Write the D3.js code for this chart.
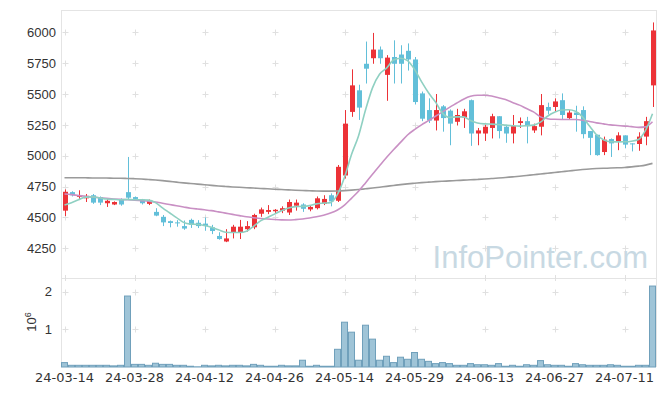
<!DOCTYPE html>
<html lang="ko">
<head>
<meta charset="UTF-8">
<title>Daily candles</title>
<script src="https://d3js.org/d3.v7.min.js"></script>
<style>
    body { margin: 0; background: #fff; }
    #chart svg { display: block; }
    .axis path, .axis line { display: none; }
    .yaxis text { font-family: "Liberation Sans", Arial, sans-serif; font-size: 13px; fill: #333; }
    .xaxis text { font-family: "DejaVu Sans", sans-serif; font-size: 13px; fill: #333; }
</style>
</head>
<body>
<div id="chart"></div>
<script>
// trading days shown
const dates = [
    "24-03-14","24-03-15","24-03-18","24-03-19","24-03-20","24-03-21","24-03-22","24-03-25","24-03-26","24-03-27",
    "24-03-28","24-03-29","24-04-01","24-04-02","24-04-03","24-04-04","24-04-05","24-04-08","24-04-09","24-04-11",
    "24-04-12","24-04-15","24-04-16","24-04-17","24-04-18","24-04-19","24-04-22","24-04-23","24-04-24","24-04-25",
    "24-04-26","24-04-29","24-04-30","24-05-02","24-05-03","24-05-07","24-05-08","24-05-09","24-05-10","24-05-13",
    "24-05-14","24-05-16","24-05-17","24-05-20","24-05-21","24-05-22","24-05-23","24-05-24","24-05-27","24-05-28",
    "24-05-29","24-05-30","24-05-31","24-06-03","24-06-04","24-06-05","24-06-07","24-06-10","24-06-11","24-06-12",
    "24-06-13","24-06-14","24-06-17","24-06-18","24-06-19","24-06-20","24-06-21","24-06-24","24-06-25","24-06-26",
    "24-06-27","24-06-28","24-07-01","24-07-02","24-07-03","24-07-04","24-07-05","24-07-08","24-07-09","24-07-10",
    "24-07-11","24-07-12","24-07-15","24-07-16","24-07-17"
];
const opens = [
    4555,4705,4668,4655,4680,4665,4615,4605,4645,4705, 4665,4645,4610,4545,4505,4470,4460,4430,4480,4457,
    4450,4420,4350,4305,4375,4380,4405,4420,4530,4545, 4550,4555,4540,4595,4605,4565,4575,4610,4680,4635,
    4840,5355,5530,5745,5790,5860,5655,5800,5820,5850, 5780,5505,5370,5285,5400,5365,5275,5310,5450,5180,
    5180,5225,5320,5235,5180,5265,5280,5205,5235,5395, 5395,5450,5305,5350,5370,5200,5170,5030,5135,5115,
    5165,5100,5095,5155,5570
];
const highs = [
    4727,4712,4720,4690,4690,4670,4650,4630,4655,4990, 4670,4650,4645,4575,4520,4475,4478,4475,4490,4478,
    4500,4440,4380,4405,4440,4480,4470,4530,4580,4600, 4568,4590,4645,4645,4615,4595,4670,4680,4695,4925,
    5370,5700,5575,5925,5995,5885,5815,5935,5895,5910, 5800,5520,5465,5500,5410,5375,5380,5380,5455,5225,
    5250,5340,5320,5250,5330,5310,5315,5260,5500,5430, 5465,5505,5370,5405,5400,5200,5170,5155,5140,5190,
    5165,5100,5190,5315,6080
];
const lows = [
    4511,4670,4650,4625,4610,4600,4585,4600,4595,4650, 4640,4605,4600,4510,4430,4420,4425,4400,4415,4414,
    4392,4365,4320,4300,4330,4325,4385,4405,4505,4527, 4530,4535,4520,4555,4545,4550,4565,4600,4590,4625,
    4815,5315,5290,5585,5745,5745,5445,5585,5585,5690, 5415,5280,5265,5205,5195,5085,5245,5225,5080,5085,
    5120,5140,5140,5105,5100,5225,5100,5185,5165,5335, 5355,5290,5290,5195,5140,5005,5000,5005,4990,5045,
    5060,5035,5040,5085,5395
];
const closes = [
    4708,4680,4675,4675,4620,4620,4635,4625,4605,4660, 4650,4615,4635,4515,4460,4455,4455,4410,4440,4430,
    4430,4390,4325,4330,4425,4425,4430,4520,4565,4560, 4562,4575,4625,4620,4570,4585,4655,4650,4630,4910,
    5260,5570,5390,5705,5860,5790,5795,5745,5745,5780, 5435,5300,5285,5370,5305,5260,5330,5360,5180,5205,
    5235,5320,5200,5180,5240,5280,5240,5240,5410,5365, 5440,5330,5350,5330,5175,5145,5005,5130,5100,5165,
    5090,5095,5155,5280,6015
];
// volume in millions of shares
const volumes = [
    0.117,0.045,0.045,0.045,0.045,0.045,0.045,0.03,0.045,1.885, 0.07,0.07,0.045,0.1,0.07,0.07,0.045,0.045,0.02,0.005,
    0.045,0.03,0.045,0.03,0.045,0.045,0.03,0.07,0.045,0.02, 0.02,0.045,0.03,0.03,0.18,0.02,0.045,0.02,0.02,0.47,
    1.19,0.925,0.18,1.11,0.74,0.18,0.285,0.117,0.26,0.205, 0.385,0.205,0.15,0.09,0.117,0.09,0.045,0.045,0.09,0.06,
    0.06,0.045,0.09,0.02,0.045,0.02,0.06,0.045,0.17,0.06, 0.045,0.045,0.02,0.09,0.06,0.045,0.045,0.045,0.06,0.045,
    0.02,0.02,0.045,0.045,2.15
];
// moving averages as drawn
const ma5 = [
    4600,4619,4643,4665,4667,4659,4649,4646,4643,4646, 4643,4643,4640,4620,4578,4538,4498,4460,4446,4444,
    4435,4420,4400,4380,4378,4378,4388,4428,4472,4500, 4527,4555,4577,4588,4590,4596,4610,4616,4620,4686,
    4825,5010,5160,5370,5550,5660,5710,5775,5790,5770, 5700,5600,5510,5435,5345,5310,5315,5315,5285,5265,
    5258,5256,5253,5248,5243,5240,5243,5248,5272,5320, 5352,5370,5372,5360,5315,5240,5170,5130,5113,5112,
    5113,5118,5132,5205,5340
];
const ma20 = [
    4690,4685,4678,4672,4665,4660,4655,4650,4646,4643, 4640,4636,4632,4625,4615,4605,4595,4585,4575,4568,
    4562,4555,4545,4535,4525,4515,4505,4498,4492,4487, 4483,4480,4479,4482,4487,4495,4505,4518,4535,4560,
    4600,4655,4712,4780,4850,4918,4985,5048,5108,5168, 5212,5250,5284,5320,5355,5392,5425,5458,5482,5490,
    5490,5484,5470,5455,5432,5410,5382,5355,5315,5300, 5295,5294,5294,5293,5288,5278,5266,5258,5250,5245,
    5240,5236,5230,5234,5275
];
const ma120 = [
    4822,4822,4822,4821,4820,4820,4819,4818,4817,4816, 4814,4811,4807,4803,4798,4792,4786,4780,4775,4770,
    4765,4760,4755,4751,4747,4744,4741,4738,4735,4732, 4729,4726,4723,4720,4718,4716,4714,4713,4713,4714,
    4717,4721,4726,4732,4738,4745,4752,4759,4766,4772, 4777,4782,4786,4790,4793,4796,4799,4802,4805,4808,
    4811,4815,4819,4824,4829,4834,4840,4846,4852,4858, 4864,4870,4876,4882,4888,4893,4896,4898,4900,4902,
    4905,4910,4916,4924,4938
];
const priceTicks = [4250, 4500, 4750, 5000, 5250, 5500, 5750, 6000];
const volumeTicks = [1, 2];
const dateTicks = ["24-03-14","24-03-28","24-04-12","24-04-26","24-05-14","24-05-29","24-06-13","24-06-27","24-07-11"];

const W = 665, H = 396;
const plotLeft = 61, plotRight = 656, plotTop = 10, plotSplit = 278, plotBottom = 367;

const svg = d3.select("#chart").append("svg")
    .attr("width", W)
    .attr("height", H);

const x = d3.scaleBand().domain(dates).range([plotLeft, plotRight]).padding(0);
const cx = d => x(d) + x.bandwidth() / 2;
const y = d3.scaleLinear().domain([4250, 6000]).range([248.3, 32.3]);
const yv = d3.scaleLinear().domain([0, 2]).range([plotBottom, 291.7]);

svg.append("clipPath").attr("id", "clipTop")
  .append("rect").attr("x", plotLeft).attr("y", plotTop).attr("width", plotRight - plotLeft).attr("height", plotSplit - plotTop);

// frame
const frame = svg.append("g").attr("stroke", "#e4e4e4").attr("fill", "none");
frame.append("line").attr("x1", plotLeft + 0.5).attr("x2", plotLeft + 0.5).attr("y1", plotTop).attr("y2", plotBottom);
frame.append("line").attr("x1", plotRight + 0.5).attr("x2", plotRight + 0.5).attr("y1", plotTop).attr("y2", plotBottom);
frame.append("line").attr("x1", plotLeft).attr("x2", plotRight + 1).attr("y1", plotTop + 0.5).attr("y2", plotTop + 0.5);
frame.append("line").attr("x1", plotLeft).attr("x2", plotRight + 1).attr("y1", plotSplit + 0.5).attr("y2", plotSplit + 0.5);

// little + marks on the grid
const grid = svg.append("g").attr("stroke", "#e0e0e0").attr("stroke-width", 1);
dateTicks.forEach(d => {
    const gx = Math.round(cx(d)) + 0.5;
    priceTicks.forEach(p => {
        const gy = Math.round(y(p)) + 0.5;
        grid.append("line").attr("x1", gx - 3).attr("x2", gx + 3).attr("y1", gy).attr("y2", gy);
        grid.append("line").attr("x1", gx).attr("x2", gx).attr("y1", gy - 3).attr("y2", gy + 3);
    });
    volumeTicks.forEach(v => {
        const gy = Math.round(yv(v)) + 0.5;
        grid.append("line").attr("x1", gx - 3).attr("x2", gx + 3).attr("y1", gy).attr("y2", gy);
        grid.append("line").attr("x1", gx).attr("x2", gx).attr("y1", gy - 3).attr("y2", gy + 3);
    });
    grid.append("line").attr("x1", gx).attr("x2", gx).attr("y1", plotSplit - 3).attr("y2", plotSplit + 3);
});

// watermark
svg.append("text")
    .attr("x", 648).attr("y", 268)
    .attr("text-anchor", "end")
    .style("font-family", "'Liberation Sans', Arial, sans-serif")
    .style("font-size", "31px")
    .attr("fill", "#c8d9e3")
    .text("InfoPointer.com");

// candles
const rows = dates.map((d, i) => ({date: d, o: opens[i], h: highs[i], l: lows[i], c: closes[i], v: volumes[i]}));
const candles = svg.append("g").attr("clip-path", "url(#clipTop)");
const colorOf = d => d.c >= d.o ? "#ec3237" : "#62bfd9";

candles.selectAll(".wick")
    .data(rows)
  .enter().append("line")
    .attr("x1", d => Math.round(cx(d.date)) + 0.5)
    .attr("x2", d => Math.round(cx(d.date)) + 0.5)
    .attr("y1", d => y(d.h))
    .attr("y2", d => y(d.l))
    .attr("stroke", colorOf)
    .attr("stroke-width", 1);

candles.selectAll(".body")
    .data(rows)
  .enter().append("rect")
    .attr("x", d => Math.round(cx(d.date)) - 2)
    .attr("width", 5)
    .attr("y", d => y(Math.max(d.o, d.c)))
    .attr("height", d => Math.max(1, Math.abs(y(d.o) - y(d.c))))
    .attr("fill", colorOf);

// moving averages
const maLine = d3.line()
    .x((v, i) => cx(dates[i]))
    .y(v => y(v))
    .curve(d3.curveMonotoneX);

[[ma120, "#9a9a9a"], [ma20, "#c990c4"], [ma5, "#8fd0c2"]].forEach(([s, col]) => {
    candles.append("path")
        .attr("d", maLine(s))
        .attr("fill", "none")
        .attr("stroke", col)
        .attr("stroke-width", 1.6);
});

// volume bars
svg.append("g").selectAll("rect")
    .data(rows)
  .enter().append("rect")
    .attr("x", d => x(d.date) + 0.5)
    .attr("width", x.bandwidth() - 1)
    .attr("y", d => yv(d.v))
    .attr("height", d => plotBottom - yv(d.v))
    .attr("fill", "#9fc4d7")
    .attr("stroke", "#70a0bb")
    .attr("stroke-width", 1);

// axes
svg.append("g")
    .attr("class", "axis yaxis")
    .attr("transform", "translate(" + plotLeft + ",0)")
    .call(d3.axisLeft(y).tickValues(priceTicks).tickFormat(d3.format("d")).tickSize(0).tickPadding(5));

svg.append("g")
    .attr("class", "axis yaxis")
    .attr("transform", "translate(" + plotLeft + ",0)")
    .call(d3.axisLeft(yv).tickValues(volumeTicks).tickFormat(d3.format("d")).tickSize(0).tickPadding(9));

svg.append("g")
    .attr("class", "axis xaxis")
    .attr("transform", "translate(0," + plotBottom + ")")
    .call(d3.axisBottom(x).tickValues(dateTicks).tickSize(0).tickPadding(6));

// 10^6 unit label
const unit = svg.append("text")
    .attr("transform", "translate(36,322) rotate(-90)")
    .attr("text-anchor", "middle")
    .style("font-family", "'Liberation Sans', Arial, sans-serif")
    .style("font-size", "13px")
    .attr("fill", "#333");
unit.append("tspan").text("10");
unit.append("tspan").attr("dy", -5).style("font-size", "9px").text("6");
</script>
</body>
</html>
